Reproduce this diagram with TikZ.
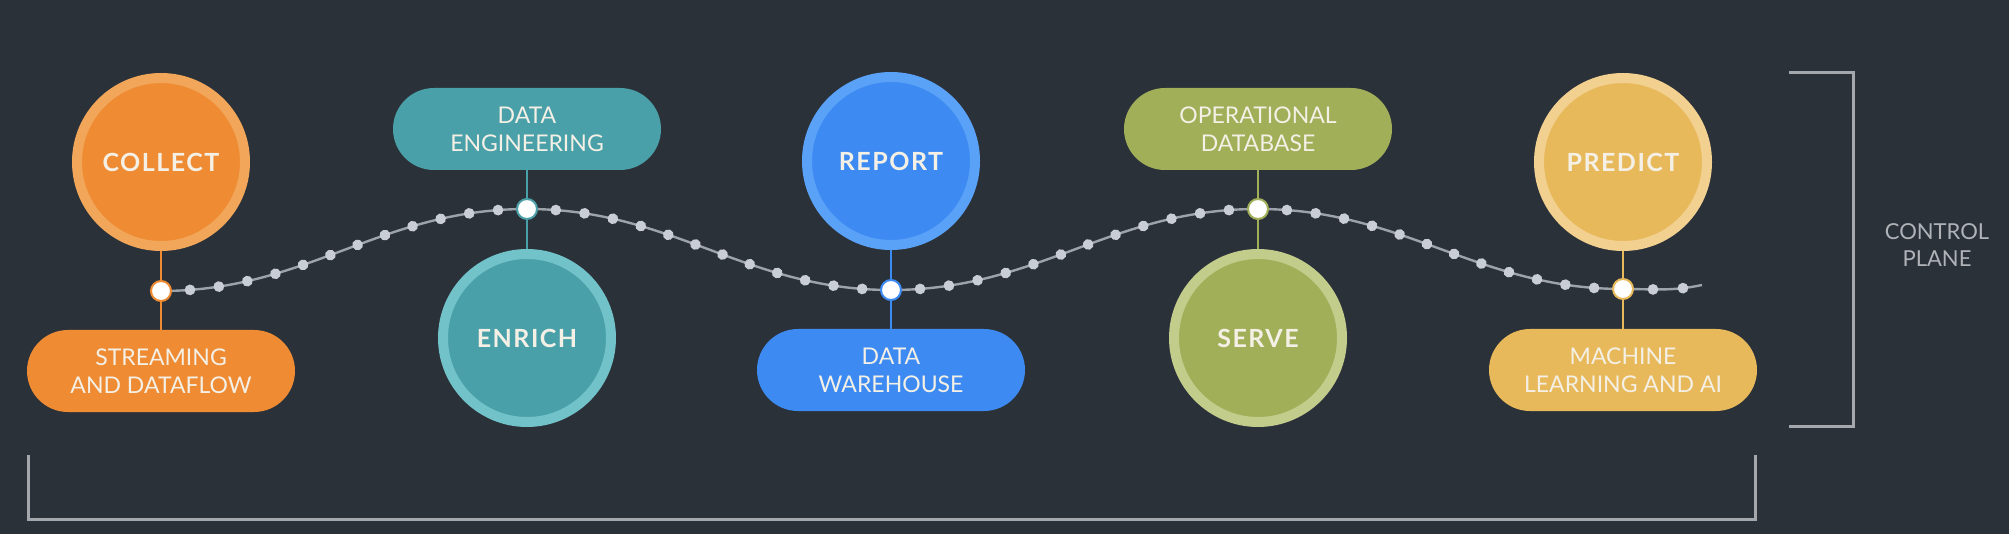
\documentclass[tikz,border=0pt]{standalone}
\usepackage{fontspec}
\setmainfont{Lato}
\newfontfamily\stagefont[LetterSpace=6]{Lato}
\usetikzlibrary{decorations.markings}
\definecolor{bg}{HTML}{2B3139}
\definecolor{txt}{HTML}{F4F0E6}
\definecolor{oraF}{HTML}{EE8B33}\definecolor{oraR}{HTML}{F2A65A}
\definecolor{teaF}{HTML}{4AA0A9}\definecolor{teaR}{HTML}{72C2C9}
\definecolor{bluF}{HTML}{3D8BF2}\definecolor{bluR}{HTML}{5AA2F7}
\definecolor{greF}{HTML}{A0AF58}\definecolor{greR}{HTML}{C2CC8B}
\definecolor{yelF}{HTML}{E8B95B}\definecolor{yelR}{HTML}{F2D08F}
\definecolor{dotc}{HTML}{C9CDD5}
\definecolor{wavec}{HTML}{9EA3AA}
\definecolor{brk}{HTML}{A4A8AD}
\definecolor{ctl}{HTML}{AFB3B8}
\tikzset{
  stage/.style n args={2}{circle, minimum size=84pt, inner sep=0pt, line width=5pt,
    fill=#1, draw=#2, text=txt, font=\stagefont\bfseries\fontsize{12.5}{15}\selectfont},
  pill/.style={rectangle, rounded corners=20.5pt, minimum width=134pt, minimum height=41pt,
    inner sep=0pt, align=center, fill=#1, text=txt, font=\fontsize{11.5}{14}\selectfont},
  junc/.style={circle, fill=white, draw=#1, line width=1pt, minimum size=10pt, inner sep=0pt},
  conn/.style={draw=#1, line width=1.3pt},
  wave/.style={draw=wavec, line width=1.2pt},
  dotted wave/.style={wave, postaction={decorate}, decoration={markings,
    mark=between positions 0.0769 and 0.95 step 0.0769 with {\fill[dotc] (0,0) circle (2.7pt);}}},
  tail wave/.style={wave, postaction={decorate}, decoration={markings,
    mark=at position 15pt with {\fill[dotc] (0,0) circle (2.7pt);},
    mark=at position 30pt with {\fill[dotc] (0,0) circle (2.7pt);}}},
  bracket/.style={draw=brk, line width=1.5pt}
}
\begin{document}
\begin{tikzpicture}[x=0.5pt,y=-0.5pt]
\fill[bg] (0,0) rectangle (2009,534);
\useasboundingbox (0,0) rectangle (2009,534);
% wave coordinates
\coordinate (w1) at (161,291);
\coordinate (w2) at (527,209);
\coordinate (w3) at (891,290);
\coordinate (w4) at (1258,209);
\coordinate (w5) at (1623,289);
\coordinate (wend) at (1702,285);
\draw[dotted wave] (w1) to[out=0,in=180] (w2);
\draw[dotted wave] (w2) to[out=0,in=180] (w3);
\draw[dotted wave] (w3) to[out=0,in=180] (w4);
\draw[dotted wave] (w4) to[out=0,in=180] (w5);
\draw[tail wave] (w5) to[out=0,in=192] (wend);
% stages
\node[stage={oraF}{oraR}] (c1) at (161,162) {COLLECT};
\node[stage={teaF}{teaR}] (c2) at (527,338) {ENRICH};
\node[stage={bluF}{bluR}] (c3) at (891,161) {REPORT};
\node[stage={greF}{greR}] (c4) at (1258,338) {SERVE};
\node[stage={yelF}{yelR}] (c5) at (1623,162) {PREDICT};
% pills
\node[pill=oraF] (p1) at (161,371) {STREAMING\\AND DATAFLOW};
\node[pill=teaF] (p2) at (527,129) {DATA\\ENGINEERING};
\node[pill=bluF] (p3) at (891,370) {DATA\\WAREHOUSE};
\node[pill=greF] (p4) at (1258,129) {OPERATIONAL\\DATABASE};
\node[pill=yelF] (p5) at (1623,370) {MACHINE\\LEARNING AND AI};
% junctions
\node[junc=oraF] (j1) at (w1) {};
\node[junc=teaF] (j2) at (w2) {};
\node[junc=bluF] (j3) at (w3) {};
\node[junc=greF] (j4) at (w4) {};
\node[junc=yelF] (j5) at (w5) {};
% connectors
\draw[conn=oraF] (c1) -- (j1); \draw[conn=oraF] (j1) -- (p1);
\draw[conn=teaF] (p2) -- (j2); \draw[conn=teaF] (j2) -- (c2);
\draw[conn=bluF] (c3) -- (j3); \draw[conn=bluF] (j3) -- (p3);
\draw[conn=greF] (p4) -- (j4); \draw[conn=greF] (j4) -- (c4);
\draw[conn=yelF] (c5) -- (j5); \draw[conn=yelF] (j5) -- (p5);
% brackets
\draw[bracket] (1789,73) -- (1853,73) -- (1853,426) -- (1789,426);
\draw[bracket] (28,455) -- (28,519) -- (1755,519) -- (1755,455);
\node[text=ctl, align=center, font=\fontsize{11}{13.5}\selectfont] (cp) at (1937,245) {CONTROL\\PLANE};
\end{tikzpicture}
\end{document}
